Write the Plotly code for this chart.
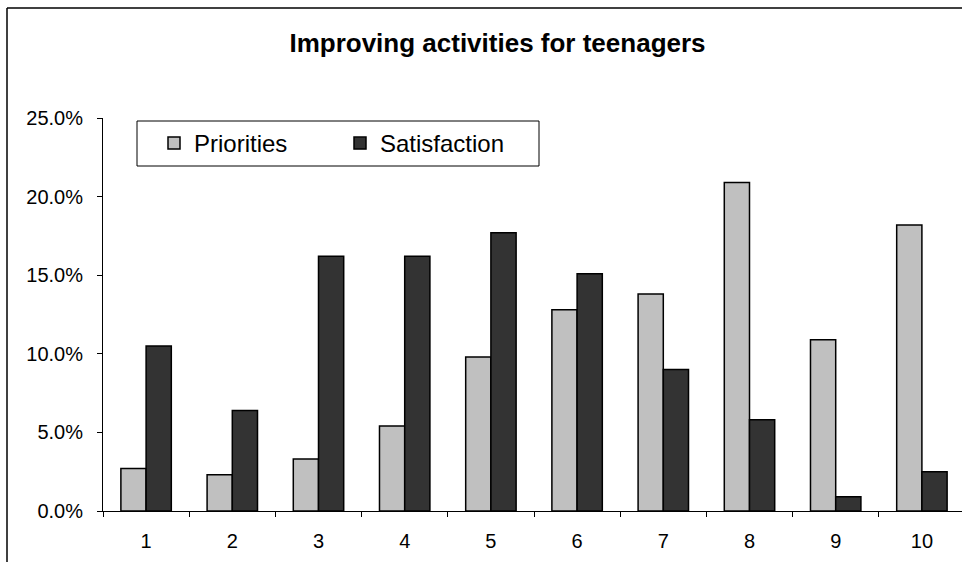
import plotly.graph_objects as go

categories = ["1", "2", "3", "4", "5", "6", "7", "8", "9", "10"]
priorities = [0.027, 0.023, 0.033, 0.054, 0.098, 0.128, 0.138, 0.209, 0.109, 0.182]
satisfaction = [0.105, 0.064, 0.162, 0.162, 0.177, 0.151, 0.090, 0.058, 0.009, 0.025]
y_ticks = [0.0, 0.05, 0.10, 0.15, 0.20, 0.25]
series_names = ["Priorities", "Satisfaction"]
title_text = "Improving activities for teenagers"

FONT = "Liberation Sans, Arial, sans-serif"
W, H = 962, 562
ML, MR, MT, MB = 103, 0, 118, 51
cat_px = 86.2  # pixel width of one category

fig = go.Figure()
fig.add_trace(go.Bar(
    x=categories, y=priorities, name=series_names[0],
    marker=dict(color="#C0C0C0", line=dict(color="black", width=1.5)),
))
fig.add_trace(go.Bar(
    x=categories, y=satisfaction, name=series_names[1],
    marker=dict(color="#333333", line=dict(color="black", width=1.5)),
))

plot_w = W - ML - MR
plot_h = H - MT - MB
x_hi = -0.5 + plot_w / cat_px


def px_x(p):
    return (p - ML) / plot_w


def px_y(p):
    return (H - MB - p) / plot_h


frame_line = dict(color="black", width=1.5)

fig.update_layout(
    width=W, height=H,
    margin=dict(l=ML, r=MR, t=MT, b=MB, pad=0),
    paper_bgcolor="white", plot_bgcolor="white",
    font=dict(family=FONT, color="black", size=20),
    barmode="group", bargap=0.415, bargroupgap=0,
    title=dict(text="<b>" + title_text + "</b>", x=497.5 / W, xanchor="center",
               y=1 - 43 / H, yanchor="middle", yref="container",
               font=dict(family=FONT, size=26, color="black")),
    legend=dict(
        orientation="h", x=px_x(154), xanchor="left",
        y=px_y(121), yanchor="top",
        borderwidth=0, bgcolor="rgba(0,0,0,0)",
        font=dict(family=FONT, size=24, color="black"),
        entrywidth=141, entrywidthmode="pixels", itemwidth=30,
    ),
    xaxis=dict(
        type="category", range=[-0.5, x_hi], showline=True, linecolor="black", linewidth=1,
        ticks="outside", tickson="boundaries", ticklen=5, tickcolor="black",
        showgrid=False, zeroline=False, ticklabelstandoff=12,
        tickfont=dict(family=FONT, size=20, color="black"),
    ),
    yaxis=dict(
        range=[0, 0.25], tickvals=y_ticks, tickformat=".1%", showline=True,
        linecolor="black", linewidth=1, ticks="outside", ticklen=5, tickcolor="black",
        showgrid=False, zeroline=False, ticklabelstandoff=10,
        tickfont=dict(family=FONT, size=20, color="black"),
    ),
    shapes=[
        # outer chart frame (left and top edges; right/bottom are cropped off)
        dict(type="line", xref="paper", yref="paper", x0=px_x(7), x1=px_x(7),
             y0=px_y(H + 5), y1=px_y(8), line=frame_line),
        dict(type="line", xref="paper", yref="paper", x0=px_x(7), x1=px_x(W + 5),
             y0=px_y(8), y1=px_y(8), line=frame_line),
        # legend box
        dict(type="rect", xref="paper", yref="paper", x0=px_x(137), x1=px_x(539),
             y0=px_y(166), y1=px_y(121), line=dict(color="black", width=1),
             fillcolor="rgba(0,0,0,0)", layer="above"),
    ],
)

fig.write_html("out.html", config={"displayModeBar": False},
               post_script="document.body.style.margin='0';")
